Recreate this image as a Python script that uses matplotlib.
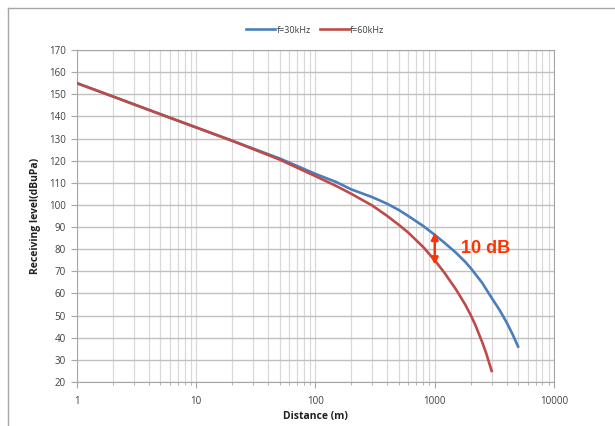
import matplotlib
matplotlib.use("Agg")
import matplotlib.pyplot as plt
from matplotlib.lines import Line2D
from matplotlib.ticker import LogLocator, FixedLocator, NullFormatter

# values
dist_30 = [1, 2, 5, 10, 20, 50, 100, 150, 200, 300, 400, 500, 600, 800, 1000, 1200, 1500,
           1800, 2000, 2500, 3000, 3500, 4000, 4500, 5000]
level_30 = [155, 149, 141, 135, 129, 121, 114, 110.3, 107, 103.5, 100.5, 97.7, 95, 90.5, 86.5,
            83, 78.5, 74.3, 71.5, 64.8, 58, 52.5, 47, 41.5, 36]

dist_60 = [1, 2, 5, 10, 20, 50, 100, 150, 200, 300, 400, 500, 600, 800, 1000, 1200, 1500,
           1800, 2000, 2200, 2500, 2700, 3000]
level_60 = [155, 149, 141, 135, 129, 120.5, 113, 108.5, 105, 99.7, 95, 91, 87.5, 81, 75,
            69.5, 62, 55, 50.3, 45.5, 38, 33, 25]

y_ticks = list(range(20, 171, 10))
x_ticks = [1, 10, 100, 1000, 10000]
x_labels = ["1", "10", "100", "1000", "10000"]

plt.rcParams['font.family'] = ['Open Sans', 'DejaVu Sans']

fig = plt.figure(figsize=(6.15, 4.26), dpi=100)
ax = fig.add_axes([0.1252, 0.1033, 0.7756, 0.7793])

ax.plot(dist_30, level_30, color="#4a7ebb", lw=1.9, label="f=30kHz", zorder=3)
ax.plot(dist_60, level_60, color="#be4b48", lw=1.9, label="f=60kHz", zorder=3)

ax.set_xscale("log")
ax.set_xlim(1, 10000)
ax.set_ylim(20, 170)
ax.xaxis.set_major_locator(FixedLocator(x_ticks))
ax.set_xticks(x_ticks)
ax.set_xticklabels(x_labels)
ax.xaxis.set_minor_locator(LogLocator(base=10, subs=range(2, 10)))
ax.xaxis.set_minor_formatter(NullFormatter())
ax.set_yticks(y_ticks)

ax.grid(True, which="major", axis="y", color="#c0c0c0", lw=1)
ax.grid(True, which="both", axis="x", color="#d9d9d9", lw=0.9)
ax.set_axisbelow(True)

for s in ax.spines.values():
    s.set_color("#a6a6a6")
ax.tick_params(axis="both", which="both", colors="#a6a6a6", labelcolor="#404040",
               labelsize=7, direction="out")
ax.tick_params(axis="y", length=4, pad=4)
ax.tick_params(axis="x", which="major", length=4, pad=6)
ax.tick_params(axis="x", which="minor", length=2)

ax.set_xlabel("Distance (m)", fontsize=7.5, fontweight="bold", color="#202020", labelpad=3)
ax.set_ylabel("Receiving level(dBuPa)", fontsize=7.5, fontweight="bold", color="#202020", labelpad=6)

leg = ax.legend(loc="center", bbox_to_anchor=(0.5, 1.06), ncol=2, frameon=False,
                fontsize=6.5, handlelength=3.2, columnspacing=1.0, handletextpad=0.15)
for t in leg.get_texts():
    t.set_color("#404040")

# 10 dB annotation
ax.annotate("", xy=(1000, 73), xytext=(1000, 87.5),
            arrowprops=dict(arrowstyle="<|-|>", color="#ff3300", lw=1.8,
                            mutation_scale=10, shrinkA=0, shrinkB=0), zorder=4)
ax.text(1650, 80.5, "10 dB", color="#ff3300", fontsize=13, fontweight="bold",
        family=["Liberation Sans", "DejaVu Sans"], va="center", ha="left", zorder=4)

# chart area frame (left and top edges only visible)
fig.add_artist(Line2D([0.0135, 0.0135], [0, 0.981], transform=fig.transFigure, color="#a6a6a6", lw=1))
fig.add_artist(Line2D([0.0135, 1.0], [0.981, 0.981], transform=fig.transFigure, color="#a6a6a6", lw=1))

fig.savefig("out.png", dpi=100)
